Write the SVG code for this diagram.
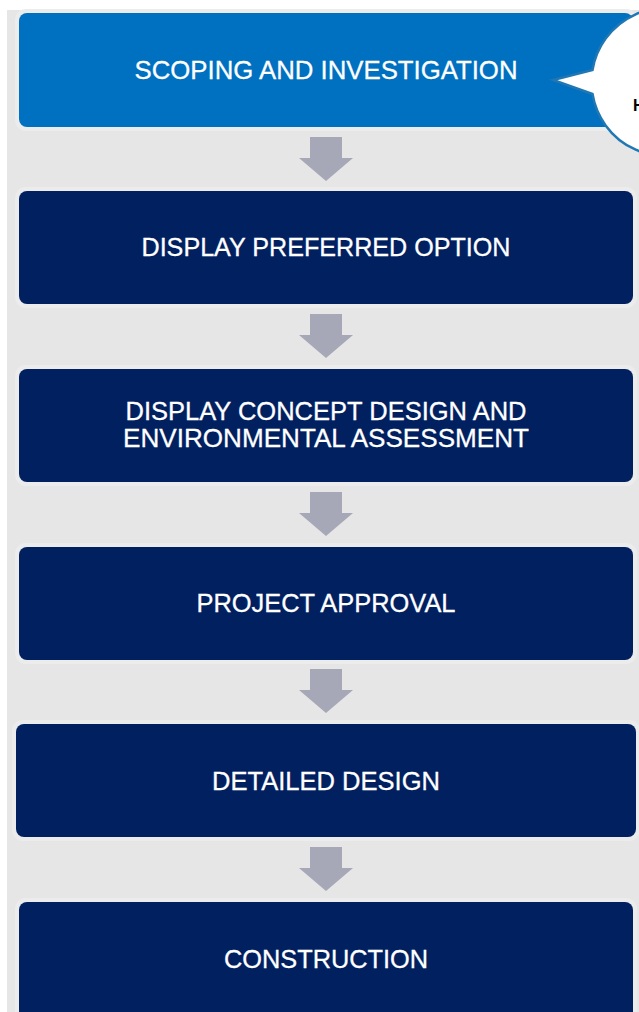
<svg xmlns="http://www.w3.org/2000/svg" width="639" height="1012" viewBox="0 0 639 1012">
<defs>
<style>
.halo{fill:#ececec}
.blue{fill:#0070c0}
.navy{fill:#002060}
.lbl{font-family:"Liberation Sans",Arial,sans-serif;font-size:26.5px;fill:#ffffff;text-anchor:middle;stroke:#ffffff;stroke-width:0.3px}
.arr{fill:#a6a8b8}
</style>
<path id="arrow" d="M310 0 H342 V21 H353 L326 44 L299 21 H310 Z"/>
</defs>
<rect x="0" y="0" width="639" height="1012" fill="#ffffff"/>
<rect x="7" y="10" width="640" height="1010" fill="#e6e6e6"/>

<g id="connectors" class="arr">
<use href="#arrow" y="137"/>
<use href="#arrow" y="314"/>
<use href="#arrow" y="492"/>
<use href="#arrow" y="669"/>
<use href="#arrow" y="847"/>
</g>

<g id="n1">
<rect class="halo" x="15" y="9" width="622" height="122" rx="11"/>
<rect class="blue" x="19" y="13" width="614" height="114" rx="8"/>
<text class="lbl" x="326" y="79" textLength="383" lengthAdjust="spacingAndGlyphs">SCOPING AND INVESTIGATION</text>
</g>
<g id="n2">
<rect class="halo" x="15" y="187" width="622" height="121" rx="11"/>
<rect class="navy" x="19" y="191" width="614" height="113" rx="8"/>
<text class="lbl" x="326" y="256" textLength="369" lengthAdjust="spacingAndGlyphs">DISPLAY PREFERRED OPTION</text>
</g>
<g id="n3">
<rect class="halo" x="15" y="365" width="622" height="121" rx="11"/>
<rect class="navy" x="19" y="369" width="614" height="113" rx="8"/>
<text class="lbl" x="326" y="420" textLength="401" lengthAdjust="spacingAndGlyphs">DISPLAY CONCEPT DESIGN AND</text>
<text class="lbl" x="326" y="447" textLength="406" lengthAdjust="spacingAndGlyphs">ENVIRONMENTAL ASSESSMENT</text>
</g>
<g id="n4">
<rect class="halo" x="15" y="543" width="622" height="121" rx="11"/>
<rect class="navy" x="19" y="547" width="614" height="113" rx="8"/>
<text class="lbl" x="326" y="612" textLength="259" lengthAdjust="spacingAndGlyphs">PROJECT APPROVAL</text>
</g>
<g id="n5">
<rect class="halo" x="12" y="720" width="628" height="121" rx="11"/>
<rect class="navy" x="16" y="724" width="620" height="113" rx="8"/>
<text class="lbl" x="326" y="790" textLength="228" lengthAdjust="spacingAndGlyphs">DETAILED DESIGN</text>
</g>
<g id="n6">
<rect class="halo" x="15" y="898" width="622" height="130" rx="11"/>
<rect class="navy" x="19" y="902" width="614" height="130" rx="8"/>
<text class="lbl" x="326" y="968" textLength="204" lengthAdjust="spacingAndGlyphs">CONSTRUCTION</text>
</g>

<g id="callout">
<path d="M592.5 70 A74 74 0 1 1 592.5 94 L553 80 Z" fill="#ffffff" stroke="#1f77b4" stroke-width="2.5" stroke-linejoin="miter"/>
<text x="633" y="111" font-family="'Liberation Sans',Arial,sans-serif" font-size="16" font-weight="bold" fill="#000000">H</text>
</g>
</svg>
